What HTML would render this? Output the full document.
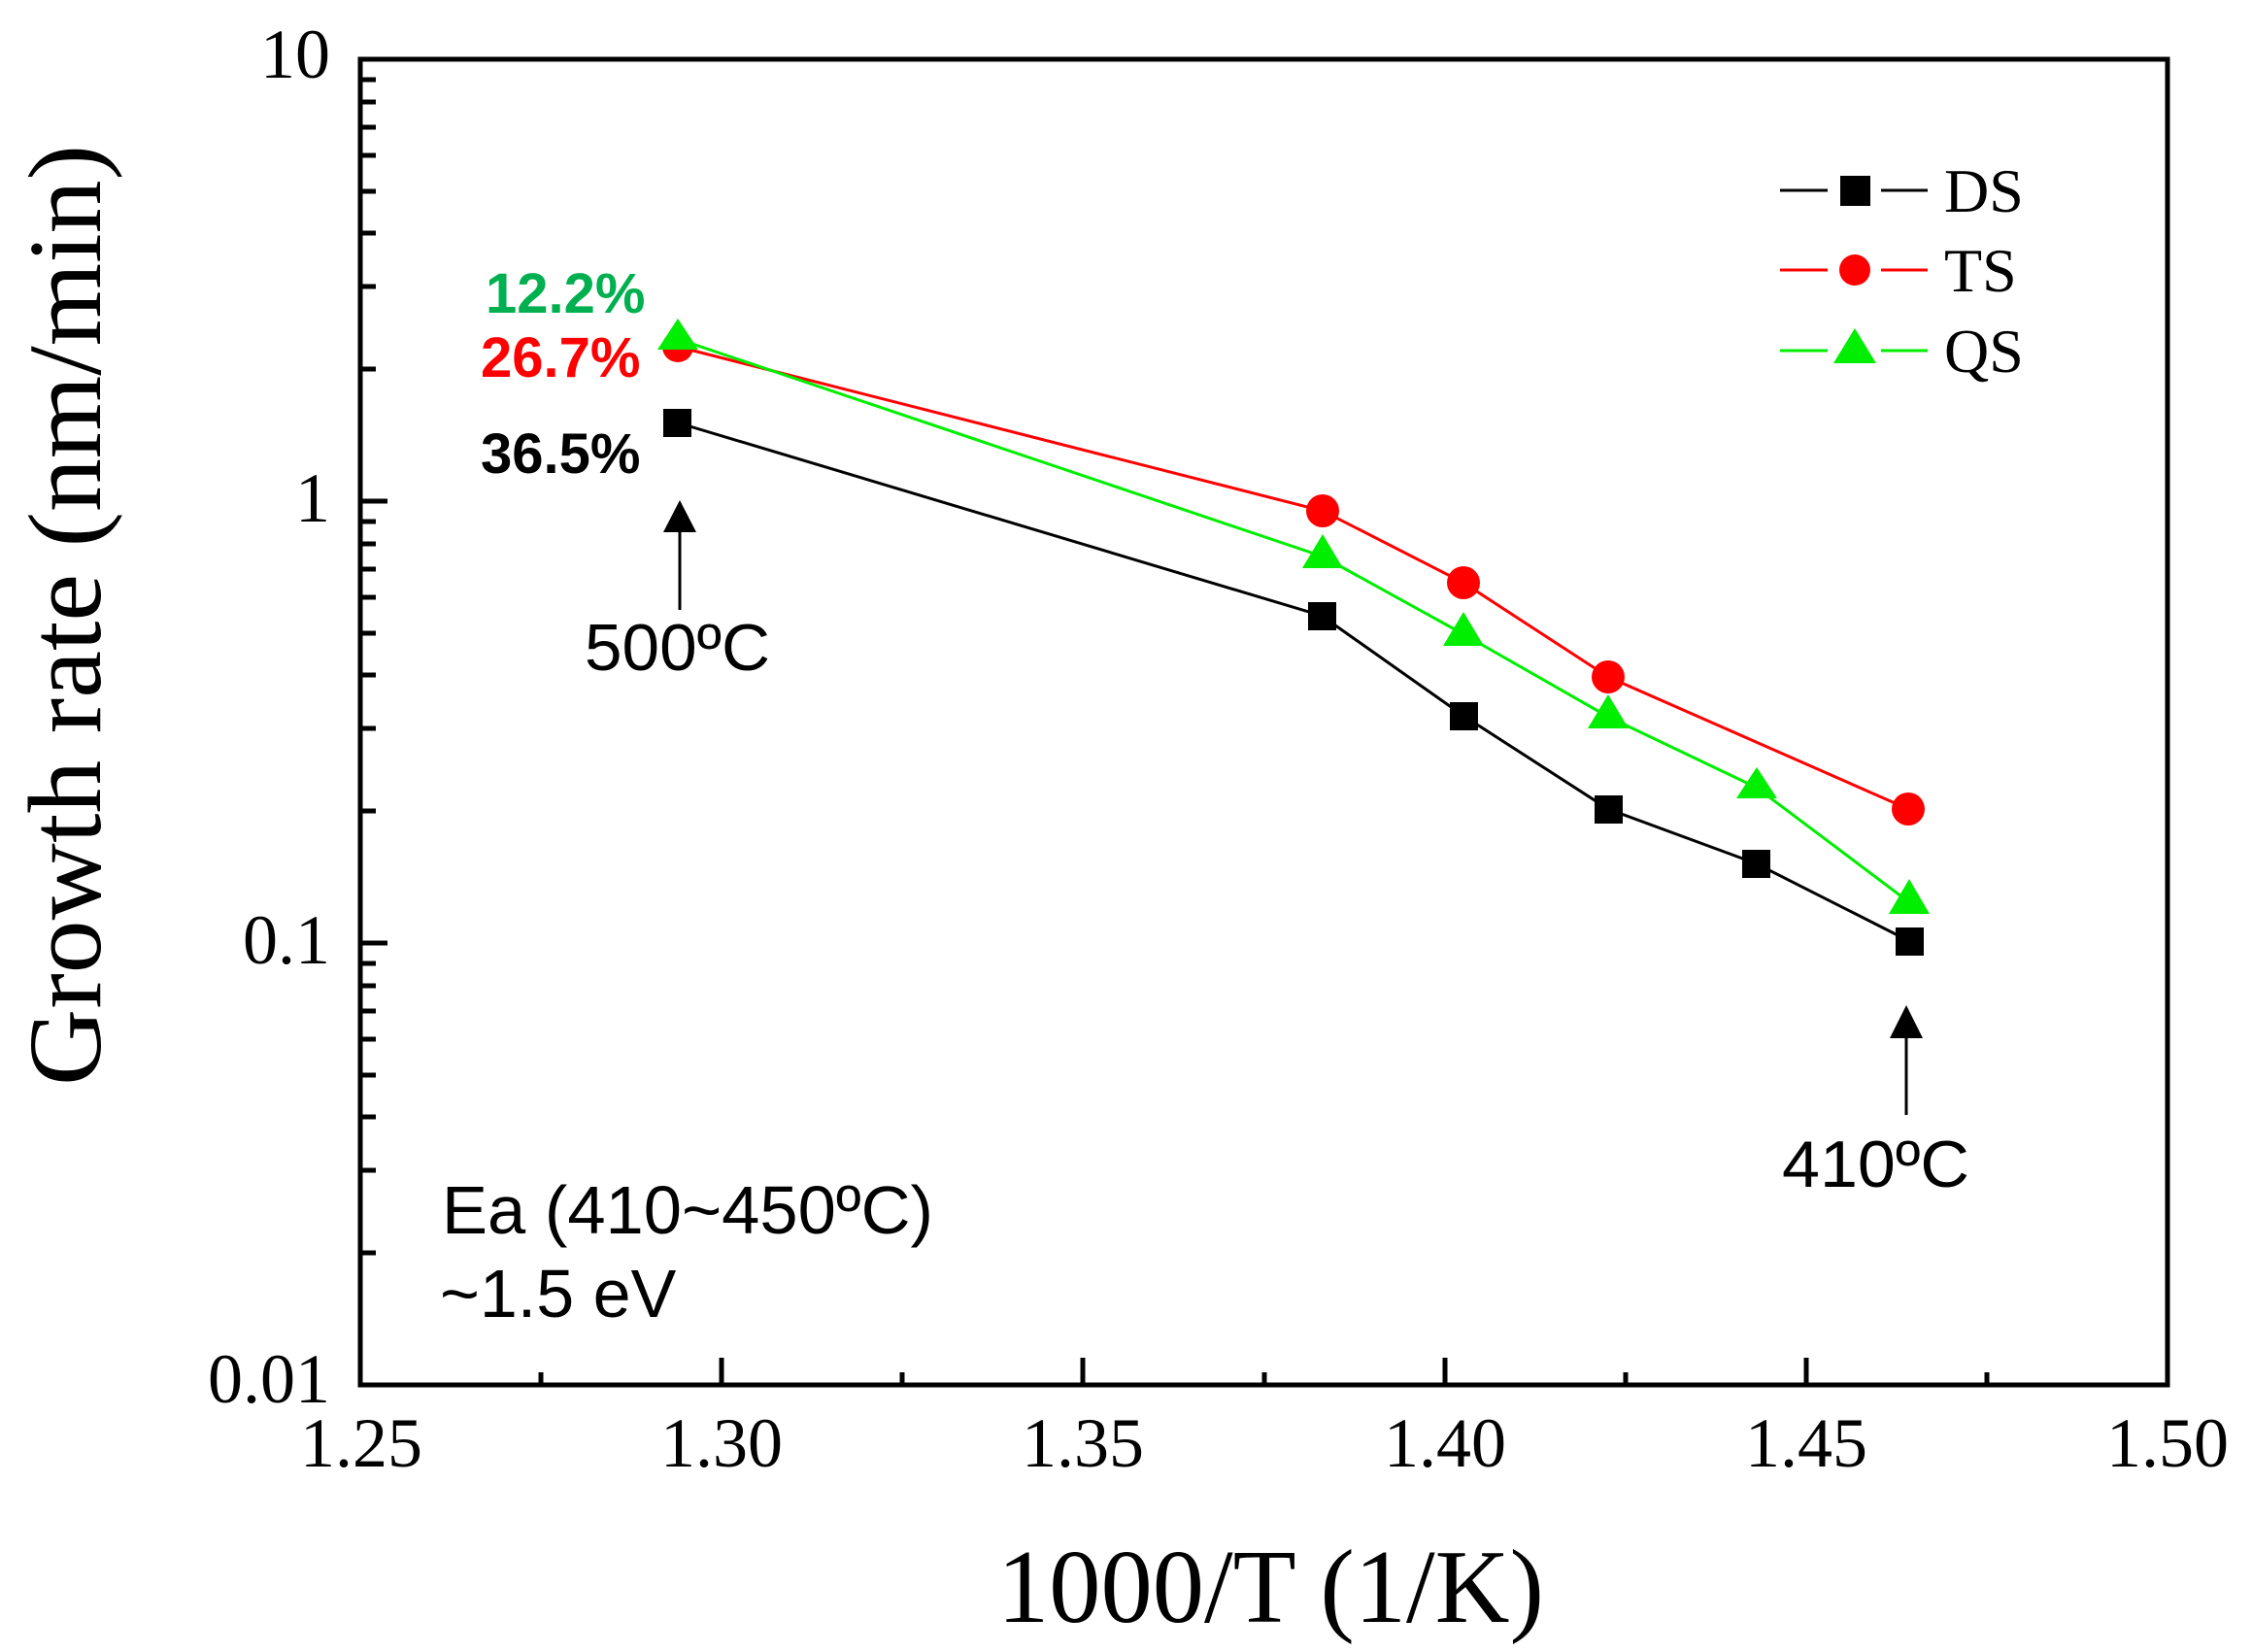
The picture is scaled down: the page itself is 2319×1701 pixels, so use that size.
<!DOCTYPE html>
<html><head><meta charset="utf-8"><style>
html,body{margin:0;padding:0;background:#fff;}
svg{display:block;}
</style></head><body>
<svg width="2319" height="1701" viewBox="0 0 2319 1701" xmlns="http://www.w3.org/2000/svg">
<rect width="2319" height="1701" fill="#fff"/>
<rect x="371" y="61" width="1861" height="1365" fill="none" stroke="#000" stroke-width="5"/>
<g stroke="#000" stroke-width="5">
<line x1="743" y1="1426" x2="743" y2="1398"/>
<line x1="1115" y1="1426" x2="1115" y2="1398"/>
<line x1="1488" y1="1426" x2="1488" y2="1398"/>
<line x1="1860" y1="1426" x2="1860" y2="1398"/>
<line x1="557" y1="1426" x2="557" y2="1413"/>
<line x1="929" y1="1426" x2="929" y2="1413"/>
<line x1="1302" y1="1426" x2="1302" y2="1413"/>
<line x1="1674" y1="1426" x2="1674" y2="1413"/>
<line x1="2046" y1="1426" x2="2046" y2="1413"/>
</g>
<g stroke="#000" stroke-width="5">
<line x1="371" y1="516" x2="399" y2="516"/>
<line x1="371" y1="971" x2="399" y2="971"/>
</g>
<g stroke="#000" stroke-width="5">
<line x1="371" y1="82" x2="387" y2="82"/><line x1="371" y1="105" x2="387" y2="105"/><line x1="371" y1="131" x2="387" y2="131"/><line x1="371" y1="160" x2="387" y2="160"/><line x1="371" y1="197" x2="387" y2="197"/><line x1="371" y1="240" x2="387" y2="240"/><line x1="371" y1="295" x2="387" y2="295"/><line x1="371" y1="380" x2="387" y2="380"/>
<line x1="371" y1="537" x2="387" y2="537"/><line x1="371" y1="560" x2="387" y2="560"/><line x1="371" y1="586" x2="387" y2="586"/><line x1="371" y1="615" x2="387" y2="615"/><line x1="371" y1="652" x2="387" y2="652"/><line x1="371" y1="695" x2="387" y2="695"/><line x1="371" y1="750" x2="387" y2="750"/><line x1="371" y1="835" x2="387" y2="835"/>
<line x1="371" y1="992" x2="387" y2="992"/><line x1="371" y1="1015" x2="387" y2="1015"/><line x1="371" y1="1041" x2="387" y2="1041"/><line x1="371" y1="1070" x2="387" y2="1070"/><line x1="371" y1="1107" x2="387" y2="1107"/><line x1="371" y1="1150" x2="387" y2="1150"/><line x1="371" y1="1205" x2="387" y2="1205"/><line x1="371" y1="1290" x2="387" y2="1290"/>
</g>
<g font-family="Liberation Serif, serif" font-size="72" fill="#000">
<text x="372" y="1510" text-anchor="middle">1.25</text>
<text x="743" y="1510" text-anchor="middle">1.30</text>
<text x="1115" y="1510" text-anchor="middle">1.35</text>
<text x="1488" y="1510" text-anchor="middle">1.40</text>
<text x="1860" y="1510" text-anchor="middle">1.45</text>
<text x="2232" y="1510" text-anchor="middle">1.50</text>
<text x="340" y="80" text-anchor="end">10</text>
<text x="340" y="537" text-anchor="end">1</text>
<text x="340" y="992" text-anchor="end">0.1</text>
<text x="340" y="1444" text-anchor="end">0.01</text>
</g>
<text x="1027" y="1670" font-family="Liberation Serif, serif" font-size="108" textLength="563" lengthAdjust="spacingAndGlyphs">1000/T (1/K)</text>
<text transform="translate(103,1118) rotate(-90)" font-family="Liberation Serif, serif" font-size="107" textLength="969" lengthAdjust="spacingAndGlyphs">Growth rate (nm/min)</text>
<polyline fill="none" stroke="#000" stroke-width="3" points="697,435 1361,634 1507,737 1656,833 1808,889 1966,969"/>
<polyline fill="none" stroke="#ff0000" stroke-width="3" points="698,357 1362,526 1507,600 1656,697 1965,833"/>
<polyline fill="none" stroke="#00ee00" stroke-width="3" points="698,349 1362,573 1507,653 1656,738 1809,811 1966,929"/>
<g fill="#000">
<rect x="683" y="421" width="29" height="29"/>
<rect x="1347" y="620" width="29" height="29"/>
<rect x="1493" y="723" width="29" height="29"/>
<rect x="1642" y="819" width="29" height="29"/>
<rect x="1794" y="875" width="29" height="29"/>
<rect x="1952" y="955" width="29" height="29"/>
</g>
<g fill="#ff0000">
<circle cx="698" cy="357" r="16"/>
<circle cx="1362" cy="526" r="17"/>
<circle cx="1507" cy="600" r="17"/>
<circle cx="1656" cy="697" r="17"/>
<circle cx="1965" cy="833" r="17"/>
</g>
<g fill="#00ee00">
<polygon points="698,328 677,360 719,360"/>
<polygon points="1362,550 1341,585 1383,585"/>
<polygon points="1507,630 1486,665 1528,665"/>
<polygon points="1656,715 1635,750 1677,750"/>
<polygon points="1809,790 1788,822 1830,822"/>
<polygon points="1966,905 1945,941 1987,941"/>
</g>
<line x1="1833" y1="196" x2="1882" y2="196" stroke="#000" stroke-width="3"/>
<line x1="1937" y1="196" x2="1985" y2="196" stroke="#000" stroke-width="3"/>
<rect x="1895" y="181" width="31" height="31" fill="#000"/>
<line x1="1833" y1="278" x2="1882" y2="278" stroke="#ff0000" stroke-width="3"/>
<line x1="1937" y1="278" x2="1985" y2="278" stroke="#ff0000" stroke-width="3"/>
<circle cx="1910" cy="278" r="16" fill="#ff0000"/>
<line x1="1833" y1="361" x2="1882" y2="361" stroke="#00ee00" stroke-width="3"/>
<line x1="1937" y1="361" x2="1985" y2="361" stroke="#00ee00" stroke-width="3"/>
<polygon points="1910,338 1888,374 1932,374" fill="#00ee00"/>
<g font-family="Liberation Serif, serif" font-size="64" fill="#000">
<text x="2002" y="218">DS</text>
<text x="2002" y="300">TS</text>
<text x="2002" y="383">QS</text>
</g>
<g font-family="Liberation Sans, sans-serif" font-weight="bold" font-size="58">
<text x="500" y="322" fill="#00b050">12.2%</text>
<text x="495" y="388" fill="#ff0000">26.7%</text>
<text x="495" y="487" fill="#000">36.5%</text>
</g>
<line x1="700" y1="545" x2="700" y2="628" stroke="#000" stroke-width="3"/>
<polygon points="700,515 683,548 717,548" fill="#000"/>
<line x1="1963" y1="1066" x2="1963" y2="1148" stroke="#000" stroke-width="3"/>
<polygon points="1963,1035 1946,1069 1980,1069" fill="#000"/>
<g font-family="Liberation Sans, sans-serif" font-size="68" fill="#000">
<text x="602" y="690" textLength="191" lengthAdjust="spacingAndGlyphs">500ºC</text>
<text x="1835" y="1222" textLength="193" lengthAdjust="spacingAndGlyphs">410ºC</text>
<text x="455" y="1270" font-size="70" textLength="506" lengthAdjust="spacingAndGlyphs">Ea (410~450ºC)</text>
<text x="453" y="1356" font-size="70">~1.5 eV</text>
</g>
</svg>
</body></html>
